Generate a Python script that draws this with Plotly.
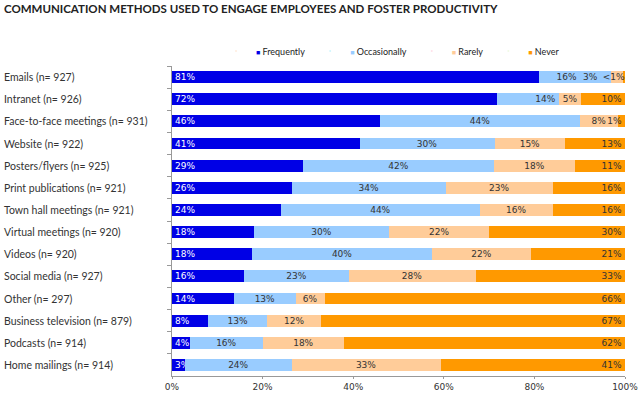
import plotly.graph_objects as go

categories = ["Emails (n= 927)", "Intranet (n= 926)", "Face-to-face meetings (n= 931)",
              "Website (n= 922)", "Posters/flyers (n= 925)", "Print publications (n= 921)",
              "Town hall meetings (n= 921)", "Virtual meetings (n= 920)", "Videos (n= 920)",
              "Social media (n= 927)", "Other (n= 297)", "Business television (n= 879)",
              "Podcasts (n= 914)", "Home mailings (n= 914)"]
frequently = [81.0, 71.8, 46.0, 41.4, 29.0, 26.4, 24.0, 18.0, 17.7, 16.0, 13.7, 8.0, 4.0, 2.9]
occasionally = [16.0, 13.7, 44.0, 29.8, 42.0, 34.1, 44.0, 30.0, 39.7, 23.0, 13.6, 13.0, 16.0, 23.5]
rarely = [2.6, 4.8, 8.5, 15.6, 18.0, 23.5, 16.0, 22.0, 21.8, 28.0, 6.4, 12.0, 18.0, 32.9]
never = [0.4, 9.7, 1.5, 13.2, 11.0, 16.0, 16.0, 30.0, 20.8, 33.0, 66.3, 67.0, 62.0, 40.7]
frequently_labels = ["81%", "72%", "46%", "41%", "29%", "26%", "24%", "18%", "18%", "16%", "14%", "8%", "4%", "3%"]
occasionally_labels = ["16%" + "&nbsp;" * 6, "&nbsp;" * 12 + "14%", "44%", "30%", "42%", "34%", "44%",
                       "30%", "40%", "23%", "13%", "13%", "16%", "24%"]
rarely_labels = ["3%" + "&nbsp;" * 19, "5%", "8%", "15%", "18%", "23%", "16%", "22%", "22%", "28%", "6%", "12%", "18%", "33%"]
never_labels = ["<1%", "10%", "1%", "13%", "11%", "16%", "16%", "30%", "21%", "33%", "66%", "67%", "62%", "41%"]
x_ticks = [0, 20, 40, 60, 80, 100]

series = [
    ("Frequently", frequently, frequently_labels, "#0000E6", "white", "start"),
    ("Occasionally", occasionally, occasionally_labels, "#99CCFF", "#333333", "middle"),
    ("Rarely", rarely, rarely_labels, "#FFCC99", "#333333", "middle"),
    ("Never", never, never_labels, "#FF9900", "#333333", "end"),
]

fig = go.Figure()
for name, vals, labels, color, tcolor, anchor in series:
    fig.add_trace(go.Bar(
        y=categories, x=vals, name=name, orientation="h", showlegend=False,
        marker=dict(color=color, line=dict(width=0)),
        text=labels, textposition="inside", insidetextanchor=anchor,
        textangle=0, constraintext="none",
        textfont=dict(family="DejaVu Sans", size=9, color=tcolor),
        cliponaxis=False,
    ))

# legend entries: small coloured square glyph directly before the label
for name, vals, labels, color, tcolor, anchor in series:
    fig.add_trace(go.Scatter(
        x=[None], y=[None], mode="markers", marker=dict(opacity=0, size=1),
        name=f'<span style="color:{color};font-size:7px">\u25A0</span> {name}',
        showlegend=True,
    ))

for c in categories:
    fig.add_annotation(x=0.0, xref="paper", xshift=-170, y=c, yref="y",
                       text=c, showarrow=False, xanchor="left",
                       font=dict(family="Lato", size=10.5, color="#333333"))

fig.update_layout(
    barmode="stack", bargap=0.47,
    width=640, height=393,
    margin=dict(l=172, r=15, t=66, b=17, autoexpand=False),
    paper_bgcolor="white", plot_bgcolor="white",
    title=dict(text="<b>COMMUNICATION METHODS USED TO ENGAGE EMPLOYEES AND FOSTER PRODUCTIVITY</b>",
               x=4 / 640, xref="container", xanchor="left", y=1 - 9 / 393, yanchor="middle",
               pad=dict(l=0, t=0, b=0, r=0),
               font=dict(family="Lato", size=11.5, color="#222222")),
    legend=dict(orientation="h", x=216 / 640, xref="container", xanchor="left",
                y=1 - 51 / 393, yref="container", yanchor="middle",
                font=dict(family="Lato", size=9, color="#222222"),
                itemwidth=30, traceorder="normal", bgcolor="rgba(0,0,0,0)"),
    uniformtext=dict(minsize=9, mode="show"),
    showlegend=True,
)
fig.update_xaxes(range=[0, 100], tickvals=x_ticks, ticktext=[f"{v}%" for v in x_ticks],
                 showgrid=False, zeroline=False, showline=True, linecolor="#999999", linewidth=1,
                 ticks="outside", ticklen=2, tickcolor="#999999",
                 tickfont=dict(family="DejaVu Sans", size=9, color="#333333"))
fig.update_yaxes(autorange="reversed", showticklabels=False, showgrid=False,
                 showline=True, linecolor="#999999", linewidth=1,
                 ticks="outside", tickson="boundaries", ticklen=4, tickcolor="#999999")

fig.write_html("out.html", config={"displayModeBar": False},
               post_script="document.body.style.margin='0';")
